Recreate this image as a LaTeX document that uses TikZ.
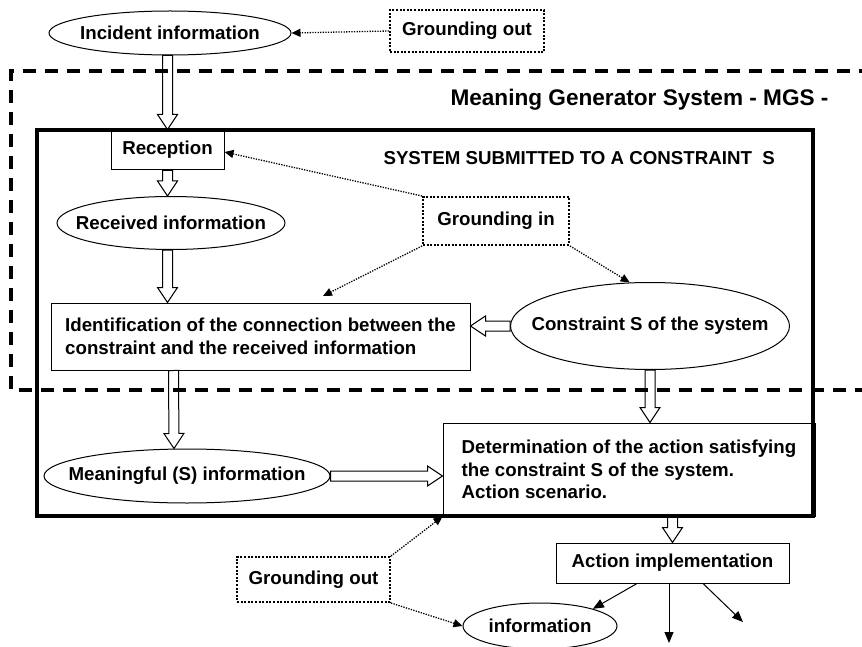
\documentclass[tikz,border=0pt]{standalone}
\usepackage{fontspec}
\setmainfont{Liberation Sans}
\usetikzlibrary{shapes.geometric,arrows.meta,calc}
\begin{document}
\begin{tikzpicture}[x=1pt,y=-1pt,
  font=\bfseries\fontsize{18.7}{22.5}\selectfont,
  ell/.style={draw, ellipse, line width=1pt, inner sep=0pt},
  box/.style={draw, rectangle, line width=1pt, inner sep=0pt, align=left},
  dotbox/.style={draw, rectangle, line width=2pt, dash pattern=on 2pt off 1.6pt, inner sep=0pt},
  dotarrow/.style={line width=1.3pt, dash pattern=on 1.3pt off 1.3pt, -{Triangle[length=9pt,width=8pt]}},
  thinarrow/.style={line width=1pt, -{Triangle[length=11pt,width=9pt]}},
  hollow/.style={draw, line width=1pt, fill=white, to path={
     ($(\tikztostart)!5pt!90:(\tikztotarget)$)
     -- ($(\tikztotarget)!15pt!(\tikztostart)!5pt!-90:(\tikztostart)$)
     -- ($(\tikztotarget)!15pt!(\tikztostart)!10pt!-90:(\tikztostart)$)
     -- (\tikztotarget)
     -- ($(\tikztotarget)!15pt!(\tikztostart)!10pt!90:(\tikztostart)$)
     -- ($(\tikztotarget)!15pt!(\tikztostart)!5pt!90:(\tikztostart)$)
     -- ($(\tikztostart)!5pt!-90:(\tikztotarget)$) -- cycle}}
]
\useasboundingbox (0,0) rectangle (862,647);

% nodes
\node[ell, minimum width=242, minimum height=44, label={center:Incident information}] (inc) at (170,33) {};
\node[dotbox, minimum width=154, minimum height=42] (gout1) at (467,31) {Grounding out};
\node[anchor=west, font=\bfseries\fontsize{22.6}{27}\selectfont] (mgs) at (447,100) {Meaning Generator System - MGS -};
\node[anchor=west] (sys) at (380,158) {SYSTEM SUBMITTED TO A CONSTRAINT\ \ S};
\node[box, minimum width=113, minimum height=40] (reception) at (167.5,150) {Reception};
\node[ell, minimum width=228, minimum height=53, label={center:Received information}] (recv) at (171,223) {};
\node[dotbox, minimum width=146, minimum height=48] (gin) at (496,221) {Grounding in};
\node[box, minimum width=419, minimum height=67] (ident) at (260.5,336.5) {Identification of the connection between the\\constraint and the received information};
\node[ell, minimum width=279, minimum height=87, label={center:Constraint S of the system}] (cons) at (650,326) {};
\node[ell, minimum width=286, minimum height=54, label={center:Meaningful (S) information}] (mean) at (187,476) {};
\node[box, minimum width=372, minimum height=93] (det) at (629,469.5) {Determination of the action satisfying\\the constraint S of the system.\\Action scenario.};
\node[box, minimum width=233, minimum height=40] (act) at (672.5,563) {Action implementation};
\node[ell, minimum width=154, minimum height=46, label={center:information}] (info) at (540,626) {};
\node[dotbox, minimum width=153, minimum height=45] (gout2) at (313.5,579.5) {Grounding out};

\coordinate (gI) at (323,296);
\coordinate (a2) at (669,643);
\coordinate (a3) at (743,622);

% hollow arrows
\draw[hollow] (inc.south -| reception.north) to (reception.north);
\draw[hollow] (reception.south) to (reception.south |- recv.north);
\draw[hollow] (recv.south -| reception.south) to (ident.north -| reception.south);
\draw[hollow] (cons.west) to (cons.west -| ident.east);
\draw[hollow] ([xshift=123pt]ident.south west) to ([xshift=-13pt]mean.north);
\draw[hollow] (cons.south) to (cons.south |- det.north);
\draw[hollow] (mean.east) to (mean.east -| det.west);
\draw[hollow] (act.north |- det.south) to (act.north);

% dotted arrows
\draw[dotarrow] (gout1.west) -- (inc.east);
\draw[dotarrow] (gin.north west) -- ([yshift=-2pt]reception.east);
\draw[dotarrow] (gin.south west) -- (gI);
\draw[dotarrow] (gin.south east) -- (cons.115);
\draw[dotarrow] (gout2.north east) -- (det.south west);
\draw[dotarrow] (gout2.south east) -- (info.west);

% thin arrows
\draw[thinarrow] ([xshift=-35.5pt]act.south) -- (info.18);
\draw[thinarrow] ([xshift=-3.5pt]act.south) -- (a2);
\draw[thinarrow] ([xshift=30.5pt]act.south) -- (a3);

% system frame
\node[draw, line width=3.5pt, minimum width=776, minimum height=386, inner sep=0pt] (frame) at (425,323) {};

% MGS dashed boundary
\draw[line width=4pt, dash pattern=on 13pt off 9pt] (872,71) -- (11,71) -- (11,390) -- (872,390);
\end{tikzpicture}
\end{document}
